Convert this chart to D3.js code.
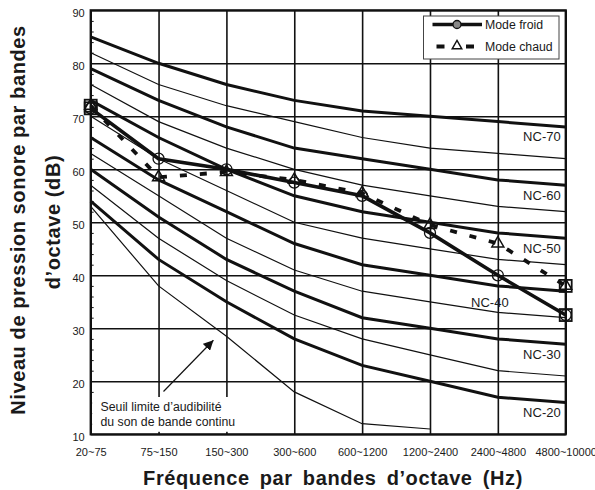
<!DOCTYPE html>
<html>
<head>
<meta charset="utf-8">
<script src="https://cdn.jsdelivr.net/npm/d3@7"></script>
<style>
	body { margin: 0; background: #fff; }
	text { font-family: "Liberation Sans", Arial, sans-serif; fill: #1a1a1a; }
</style>
</head>
<body>
<script>
	// bandes d'octave (Hz)
	var bands = ["20~75", "75~150", "150~300", "300~600", "600~1200", "1200~2400", "2400~4800", "4800~10000"];
	var yTicks = [10, 20, 30, 40, 50, 60, 70, 80, 90];

	// courbes NC
	var nc70 = [85, 80, 76, 73, 71, 70, 69, 68];
	var nc65 = [82, 76, 72, 69, 66, 64, 63, 62];
	var nc60 = [79, 73, 68, 64, 62, 60, 58, 57];
	var nc55 = [76, 69, 64, 60, 57, 55, 53, 52];
	var nc50 = [73, 66, 60, 55, 52, 50, 48, 47];
	var nc45 = [70, 62, 56, 50, 47, 45, 43, 42];
	var nc40 = [66, 58, 52, 46, 42, 40, 38, 37];
	var nc35 = [63, 55, 47, 41, 37, 35, 33, 32];
	var nc30 = [60, 51, 43, 37, 32, 30, 28, 27];
	var nc25 = [57, 47, 39, 32.5, 28, 25, 22, 21];
	var nc20 = [54, 43, 35, 28, 23, 20, 17, 16];
	var seuil = [53, 38, 28.5, 18, 12, 11];

	// mesures
	var modeFroid = [71.5, 62, 60, 57.5, 55, 48, 40, 32.5];
	var modeChaud = [72, 58.5, 59.5, 58, 55.5, 49.5, 46, 38];

	var curves = [
		{name: "NC-70", values: nc70, thick: true},
		{name: "NC-65", values: nc65, thick: false},
		{name: "NC-60", values: nc60, thick: true},
		{name: "NC-55", values: nc55, thick: false},
		{name: "NC-50", values: nc50, thick: true},
		{name: "NC-45", values: nc45, thick: false},
		{name: "NC-40", values: nc40, thick: true},
		{name: "NC-35", values: nc35, thick: false},
		{name: "NC-30", values: nc30, thick: true},
		{name: "NC-25", values: nc25, thick: false},
		{name: "NC-20", values: nc20, thick: true},
		{name: "seuil", values: seuil, thick: false}
	];

	var svg_w = 595;
	var svg_h = 490;
	var pLeft = 90.7, pRight = 565.7, pTop = 10.3, pBottom = 434.3;

	var svg = d3.select("body").append("svg")
	.attr("width", svg_w)
	.attr("height", svg_h);

	var x = d3.scalePoint()
	.domain(bands)
	.range([pLeft, pRight]);

	var y = d3.scaleLinear()
	.domain([10, 90])
	.range([pBottom, pTop]);

	// grille
	svg.append("g")
	.attr("transform", "translate(0," + pBottom + ")")
	.call(d3.axisBottom(x).tickSize(-(pBottom - pTop)).tickFormat(""))
	.call(g => g.select(".domain").remove())
	.selectAll("line").attr("stroke", "#111").attr("stroke-width", 1.6);

	svg.append("g")
	.attr("transform", "translate(" + pLeft + ",0)")
	.call(d3.axisLeft(y).tickValues(yTicks).tickSize(-(pRight - pLeft)).tickFormat(""))
	.call(g => g.select(".domain").remove())
	.selectAll("line").attr("stroke", "#111").attr("stroke-width", 1.6);

	// petites graduations
	svg.append("g")
	.attr("transform", "translate(" + pLeft + ",0)")
	.call(d3.axisLeft(y).tickValues(d3.range(12, 90, 2).filter(v => v % 10 != 0)).tickSize(-3).tickFormat(""))
	.call(g => g.select(".domain").remove())
	.selectAll("line").attr("stroke", "#111").attr("stroke-width", 1);

	var line = d3.line()
	.x((d, i) => x(bands[i]))
	.y(d => y(d));

	svg.append("g")
	.selectAll("path")
	.data(curves)
	.enter()
	.append("path")
	.attr("d", d => line(d.values))
	.attr("fill", "none")
	.attr("stroke", "#111")
	.attr("stroke-width", d => d.thick ? 3 : 1.2);

	// libelles NC
	var ncLabels = [
		{name: "NC-70", values: nc70, col: 7},
		{name: "NC-60", values: nc60, col: 7},
		{name: "NC-50", values: nc50, col: 7},
		{name: "NC-30", values: nc30, col: 7},
		{name: "NC-20", values: nc20, col: 7}
	];
	svg.append("g")
	.selectAll("text")
	.data(ncLabels)
	.enter()
	.append("text")
	.attr("x", d => x(bands[d.col]) - 5)
	.attr("y", d => y(d.values[d.col]) + 14.5)
	.attr("text-anchor", "end")
	.style("font-size", "13px")
	.text(d => d.name);

	svg.append("text")
	.attr("x", x(bands[6]) - 8)
	.attr("y", y(nc40[6]) + 21.5)
	.attr("text-anchor", "middle")
	.style("font-size", "13px")
	.text("NC-40");

	// cadre blanc de l'annotation
	svg.append("rect")
	.attr("x", pLeft + 1.5)
	.attr("y", 397)
	.attr("width", 136)
	.attr("height", pBottom - 397 - 2.5)
	.attr("fill", "#fff");

	svg.append("text")
	.attr("x", 100.5)
	.attr("y", 410.5)
	.style("font-size", "12.3px")
	.text("Seuil limite d\u2019audibilit\u00e9");
	svg.append("text")
	.attr("x", 100.5)
	.attr("y", 425.5)
	.style("font-size", "12.3px")
	.text("du son de bande continu");

	svg.append("defs").append("marker")
	.attr("id", "fleche")
	.attr("viewBox", "0 0 10 10")
	.attr("refX", 10).attr("refY", 5)
	.attr("markerWidth", 10).attr("markerHeight", 10)
	.attr("markerUnits", "userSpaceOnUse")
	.attr("orient", "auto")
	.append("path")
	.attr("d", "M0,0L10,5L0,10z")
	.attr("fill", "#111");

	svg.append("line")
	.attr("x1", 163.5).attr("y1", 391.5)
	.attr("x2", x(bands[2]) - 13).attr("y2", y(seuil[2]) + 4)
	.attr("stroke", "#111")
	.attr("stroke-width", 1.2)
	.attr("marker-end", "url(#fleche)");

	// cadre
	svg.append("rect")
	.attr("x", pLeft).attr("y", pTop)
	.attr("width", pRight - pLeft).attr("height", pBottom - pTop)
	.attr("fill", "none")
	.attr("stroke", "#111")
	.attr("stroke-width", 2.2);

	// axes
	svg.append("g")
	.attr("transform", "translate(" + pLeft + ",0)")
	.call(d3.axisLeft(y).tickValues(yTicks).tickSize(0).tickPadding(6))
	.call(g => g.select(".domain").remove())
	.selectAll("text")
	.attr("dy", "0.55em")
	.style("font-size", "11px")
	.style("font-family", "'Liberation Sans', Arial, sans-serif")
	.attr("fill", "#1a1a1a");

	svg.append("g")
	.attr("transform", "translate(0," + pBottom + ")")
	.call(d3.axisBottom(x).tickSize(0).tickPadding(13.5))
	.call(g => g.select(".domain").remove())
	.selectAll("text")
	.style("font-size", "11px")
	.style("font-family", "'Liberation Sans', Arial, sans-serif")
	.attr("fill", "#1a1a1a");

	// series
	svg.append("path")
	.attr("d", line(modeChaud))
	.attr("fill", "none")
	.attr("stroke", "#111")
	.attr("stroke-width", 3.8)
	.attr("stroke-dasharray", "7,13");

	svg.append("path")
	.attr("d", line(modeFroid))
	.attr("fill", "none")
	.attr("stroke", "#111")
	.attr("stroke-width", 3.6);

	svg.append("g")
	.selectAll("circle")
	.data(modeFroid)
	.enter()
	.append("circle")
	.attr("cx", (d, i) => x(bands[i]))
	.attr("cy", d => y(d))
	.attr("r", 5.5)
	.attr("fill", "none")
	.attr("stroke", "#111")
	.attr("stroke-width", 1.3);

	svg.append("g")
	.selectAll("path")
	.data(modeChaud)
	.enter()
	.append("path")
	.attr("d", d3.symbol(d3.symbolTriangle).size(62))
	.attr("transform", (d, i) => "translate(" + x(bands[i]) + "," + y(d) + ")")
	.attr("fill", "none")
	.attr("stroke", "#111")
	.attr("stroke-width", 1.5);

	// carres aux extremites
	var ends = [
		{i: 0, v: modeFroid[0]}, {i: 0, v: modeChaud[0]},
		{i: 7, v: modeFroid[7]}, {i: 7, v: modeChaud[7]}
	];
	svg.append("g")
	.selectAll("rect")
	.data(ends)
	.enter()
	.append("rect")
	.attr("x", d => x(bands[d.i]) - 6)
	.attr("y", d => y(d.v) - 6)
	.attr("width", 12)
	.attr("height", 12)
	.attr("fill", "none")
	.attr("stroke", "#111")
	.attr("stroke-width", 1.8);

	// legende
	var leg = svg.append("g");
	leg.append("rect")
	.attr("x", 423.5).attr("y", 16)
	.attr("width", 135.5).attr("height", 43)
	.attr("fill", "#fff")
	.attr("stroke", "#444")
	.attr("stroke-width", 1);

	leg.append("line")
	.attr("x1", 432.5).attr("x2", 482).attr("y1", 24.5).attr("y2", 24.5)
	.attr("stroke", "#111").attr("stroke-width", 3.6);
	leg.append("circle")
	.attr("cx", 457).attr("cy", 24.5).attr("r", 4)
	.attr("fill", "#888").attr("stroke", "#111").attr("stroke-width", 1.3);
	leg.append("text")
	.attr("x", 485).attr("y", 29)
	.style("font-size", "12.3px")
	.text("Mode froid");

	leg.append("line")
	.attr("x1", 436.5).attr("x2", 474).attr("y1", 46.5).attr("y2", 46.5)
	.attr("stroke", "#111").attr("stroke-width", 3.8)
	.attr("stroke-dasharray", "8,21.5");
	leg.append("path")
	.attr("d", d3.symbol(d3.symbolTriangle).size(40))
	.attr("transform", "translate(457,46)")
	.attr("fill", "none")
	.attr("stroke", "#111")
	.attr("stroke-width", 1.4);
	leg.append("text")
	.attr("x", 485).attr("y", 51)
	.style("font-size", "12.3px")
	.text("Mode chaud");

	// titres
	svg.append("text")
	.attr("transform", "translate(" + 333 + ",485)")
	.attr("text-anchor", "middle")
	.style("font-size", "20px")
	.style("font-weight", "bold")
	.style("letter-spacing", "0.6px")
	.style("word-spacing", "4px")
	.text("Fr\u00e9quence par bandes d\u2019octave (Hz)");

	svg.append("text")
	.attr("transform", "translate(25,220) rotate(-90)")
	.attr("text-anchor", "middle")
	.style("font-size", "20px")
	.style("font-weight", "bold")
	.style("letter-spacing", "0.6px")
	.text("Niveau de pression sonore par bandes");

	svg.append("text")
	.attr("transform", "translate(60,222) rotate(-90)")
	.attr("text-anchor", "middle")
	.style("font-size", "20px")
	.style("font-weight", "bold")
	.style("letter-spacing", "0.6px")
	.text("d\u2019octave (dB)");
</script>
</body>
</html>
